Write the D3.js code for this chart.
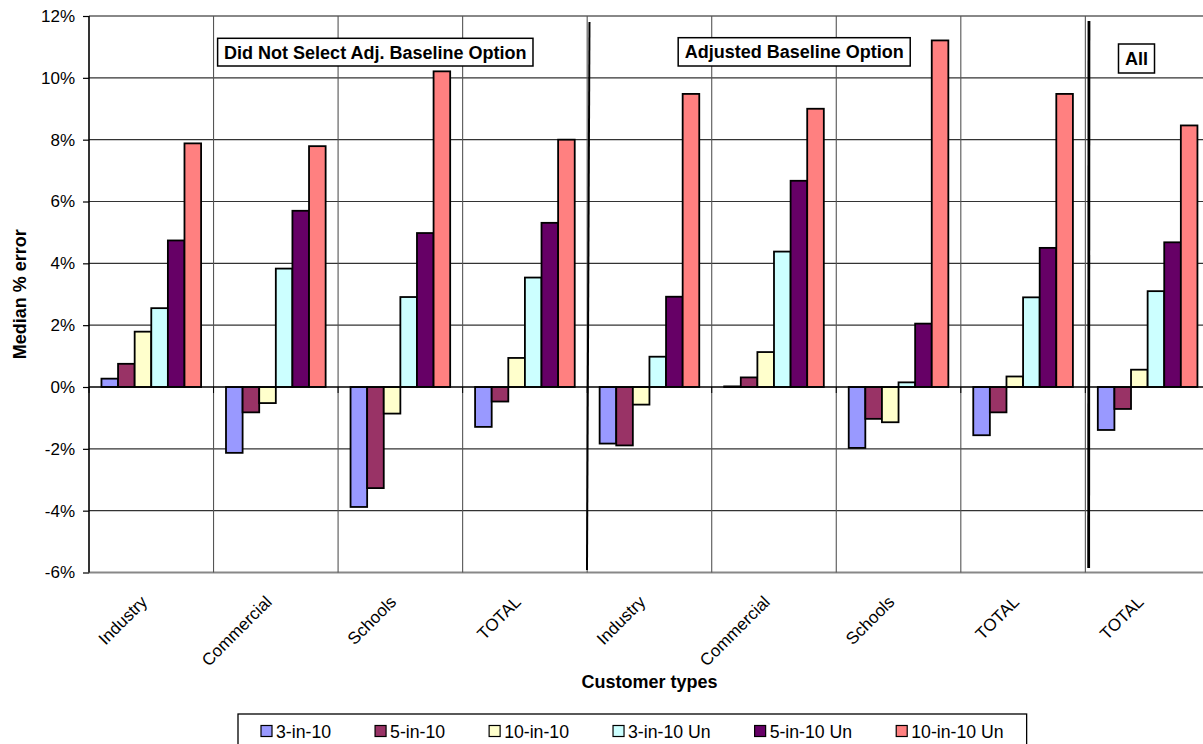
<!DOCTYPE html>
<html><head><meta charset="utf-8">
<script src="https://cdn.jsdelivr.net/npm/d3@7"></script>
<style>
html,body{margin:0;padding:0;background:#fff;}
svg{display:block;font-family:Arial,"Liberation Sans",sans-serif;}
</style></head>
<body><svg id="c" width="1203" height="744"></svg>
<script>
const categories = ["Industry","Commercial","Schools","TOTAL","Industry","Commercial","Schools","TOTAL","TOTAL"];
const seriesNames = ["3-in-10","5-in-10","10-in-10","3-in-10 Un","5-in-10 Un","10-in-10 Un"];
const seriesColors = ["#9999FF","#993366","#FFFFCC","#CCFFFF","#660066","#FF8080"];
const s3in10    = [0.27,-2.13,-3.88,-1.29,-1.83,0.02,-1.97,-1.56,-1.39];
const s5in10    = [0.75,-0.82,-3.27,-0.47,-1.89,0.31,-1.03,-0.82,-0.71];
const s10in10   = [1.79,-0.52,-0.86,0.94,-0.57,1.13,-1.14,0.34,0.56];
const s3in10Un  = [2.55,3.83,2.91,3.54,0.98,4.38,0.15,2.90,3.10];
const s5in10Un  = [4.74,5.70,4.98,5.31,2.92,6.67,2.05,4.50,4.68];
const s10in10Un = [7.88,7.79,10.21,8.00,9.48,9.00,11.21,9.48,8.46];
const yTicks = [-6,-4,-2,0,2,4,6,8,10,12];
const groupLabels = ["Did Not Select Adj. Baseline Option","Adjusted Baseline Option","All"];

const seriesValues = [s3in10,s5in10,s10in10,s3in10Un,s5in10Un,s10in10Un];

const svg = d3.select("#c");
const W = 1203, H = 744;
const pLeft = 89, pRight = 1209.9, pTop = 16, pBottom = 572.5;
const FONT = 17, LFONT = 17.7, BFONT = 18;

const x = d3.scaleBand().domain(d3.range(categories.length)).range([pLeft,pRight]).padding(0);
const xi = d3.scaleBand().domain(d3.range(seriesNames.length)).range([0,x.bandwidth()]).paddingInner(0).paddingOuter(0.75);
const y = d3.scaleLinear().domain([-6,12]).range([pBottom,pTop]);

const g = svg.append("g");

// horizontal gridlines
g.selectAll("line.hg").data(yTicks.filter(d=>d!==0 && d!==12 && d!==-6)).enter().append("line")
  .attr("x1",pLeft).attr("x2",pRight).attr("y1",d=>y(d)).attr("y2",d=>y(d))
  .attr("stroke","#333").attr("stroke-width",1.2);
// plot border top/bottom
[12,-6].forEach(v=>{
  g.append("line").attr("x1",pLeft).attr("x2",pRight).attr("y1",y(v)).attr("y2",y(v))
   .attr("stroke","#888").attr("stroke-width",2);
});
// vertical gridlines at category boundaries
g.selectAll("line.vg").data(d3.range(1,categories.length)).enter().append("line")
  .attr("x1",d=>x(d)).attr("x2",d=>x(d)).attr("y1",pTop).attr("y2",pBottom)
  .attr("stroke","#555").attr("stroke-width",1.1);

// bars
seriesValues.forEach((vals,si)=>{
  g.selectAll("rect.s"+si).data(vals).enter().append("rect")
    .attr("x",(d,i)=>x(i)+xi(si))
    .attr("width",xi.bandwidth())
    .attr("y",d=>y(Math.max(0,d)))
    .attr("height",d=>Math.abs(y(d)-y(0)))
    .attr("fill",seriesColors[si])
    .attr("stroke","#000").attr("stroke-width",1.8);
});

// x axis line at 0 with ticks
g.append("line").attr("x1",pLeft).attr("x2",pRight).attr("y1",y(0)).attr("y2",y(0))
  .attr("stroke","#000").attr("stroke-width",1.6);
g.selectAll("line.xt").data(d3.range(0,categories.length)).enter().append("line")
  .attr("x1",d=>x(d)).attr("x2",d=>x(d))
  .attr("y1",y(0)).attr("y2",y(0)+6).attr("stroke","#000").attr("stroke-width",1);

// y axis
const ya = d3.axisLeft(y).tickValues(yTicks).tickFormat(d=>d+"%").tickSize(6).tickPadding(8);
const yg = svg.append("g").attr("transform",`translate(${pLeft},0)`).call(ya);
yg.select(".domain").remove();
yg.selectAll(".tick line").attr("stroke","#000").attr("stroke-width",1.2);
yg.selectAll(".tick text").attr("font-size",FONT).attr("fill","#000").attr("font-family","Arial, Liberation Sans, sans-serif");
svg.append("line").attr("x1",pLeft).attr("x2",pLeft).attr("y1",pTop).attr("y2",pBottom)
  .attr("stroke","#000").attr("stroke-width",1.6);

// separators between groups
const sep1x = x(4), sep2x = x(8);
svg.append("line").attr("x1",sep1x+2.3).attr("y1",22).attr("x2",sep1x-0.2).attr("y2",570)
  .attr("stroke","#000").attr("stroke-width",2);
svg.append("line").attr("x1",sep2x+3.6).attr("y1",21).attr("x2",sep2x+3.3).attr("y2",568)
  .attr("stroke","#000").attr("stroke-width",2.8);

// x category labels
svg.selectAll("text.xl").data(categories).enter().append("text")
  .attr("transform",(d,i)=>`translate(${x(i)+x.bandwidth()/2-3},${603}) rotate(-45)`)
  .attr("text-anchor","end").attr("font-size",FONT).attr("fill","#000").text(d=>d);

// axis titles
svg.append("text").attr("x",(pLeft+pRight)/2).attr("y",688).attr("text-anchor","middle")
  .attr("font-size",BFONT).attr("font-weight","bold").text("Customer types");
svg.append("text").attr("transform",`translate(26,${(pTop+pBottom)/2}) rotate(-90)`)
  .attr("text-anchor","middle").attr("font-size",BFONT).attr("font-weight","bold").text("Median % error");

// group annotation boxes
const boxes = [
  {t:groupLabels[0], cx:375.3, y0:38.3, y1:66},
  {t:groupLabels[1], cx:794.2, y0:37.7, y1:66},
  {t:groupLabels[2], cx:1136.5, y0:44, y1:73}
];
boxes.forEach(b=>{
  const bg = svg.append("g");
  const r = bg.append("rect").attr("fill","#fff").attr("stroke","#000").attr("stroke-width",1.5);
  const t = bg.append("text").attr("x",b.cx).attr("y",(b.y0+b.y1)/2+6.5).attr("text-anchor","middle")
    .attr("font-size",BFONT).attr("font-weight","bold").text(b.t);
  const w = t.node().getComputedTextLength();
  r.attr("x",b.cx-w/2-6.5).attr("y",b.y0).attr("width",w+13).attr("height",b.y1-b.y0);
});

// legend
const lg = svg.append("g");
const lrect = lg.append("rect").attr("x",238).attr("y",714).attr("height",40).attr("fill","#fff")
  .attr("stroke","#000").attr("stroke-width",1.3);
let cx = 261;
seriesNames.forEach((n,i)=>{
  lg.append("rect").attr("x",cx).attr("y",725.5).attr("width",11).attr("height",11)
    .attr("fill",seriesColors[i]).attr("stroke","#000").attr("stroke-width",1.2);
  const t = lg.append("text").attr("x",cx+15).attr("y",737.5).attr("font-size",LFONT).text(n);
  const w = t.node().getComputedTextLength();
  cx += 15 + w + (i<seriesNames.length-1 ? 44 : 0);
});
lrect.attr("width",cx+23-238);
</script></body></html>
